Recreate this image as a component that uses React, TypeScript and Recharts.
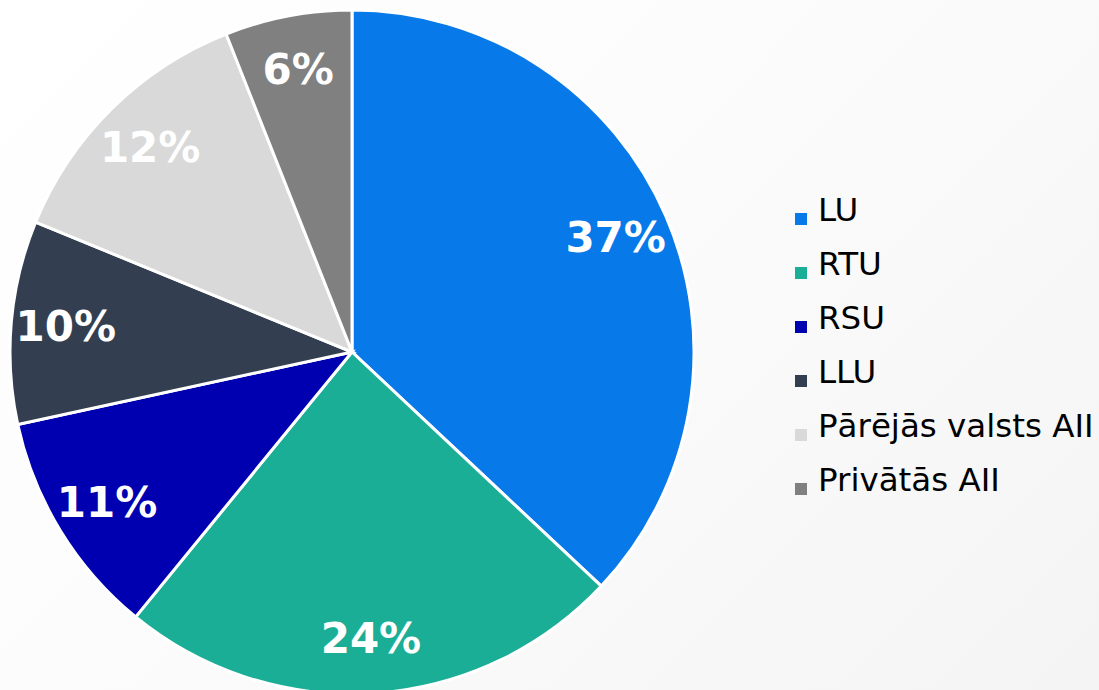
import { PieChart, Pie, Cell, Legend } from "recharts";

const names = ["LU", "RTU", "RSU", "LLU", "Pārējās valsts AII", "Privātās AII"];
// slice sizes
const shares = [37.0, 23.9, 10.7, 9.6, 12.8, 6.0];
// labels as printed on the slices
const labels = ["37%", "24%", "11%", "10%", "12%", "6%"];
const colors = ["#0779E9", "#1BAE96", "#0000B0", "#333F50", "#D9D9D9", "#808080"];

const data = names.map((name, i) => ({ name, value: shares[i], label: labels[i], color: colors[i] }));

const RAD = Math.PI / 180;
const FONT = "'DejaVu Sans', Verdana, sans-serif";

const renderLabel = (props: any) => {
  const { cx, cy, midAngle, outerRadius, payload } = props;
  const r = outerRadius * 0.84;
  const x = cx + r * Math.cos(-midAngle * RAD);
  const y = cy + r * Math.sin(-midAngle * RAD);
  return (
    <text
      x={x}
      y={y}
      fill="#ffffff"
      textAnchor="middle"
      dominantBaseline="central"
      fontFamily={FONT}
      fontWeight="bold"
      fontSize={42}
    >
      {payload.label}
    </text>
  );
};

const renderLegend = () => (
  <div style={{ fontFamily: FONT, fontSize: 32.5, color: "#000" }}>
    {data.map((d) => (
      <div key={d.name} style={{ display: "flex", alignItems: "flex-end", height: 54 }}>
        <span
          style={{
            display: "inline-block",
            width: 12,
            height: 12,
            background: d.color,
            marginRight: 11,
            marginBottom: 12,
          }}
        />
        <span style={{ lineHeight: "54px" }}>{d.name}</span>
      </div>
    ))}
  </div>
);

export default function App() {
  return (
    <div
      style={{
        position: "absolute",
        left: 0,
        top: 0,
        width: 1099,
        height: 690,
        overflow: "hidden",
        background: "linear-gradient(135deg, #ffffff 0%, #fbfbfb 50%, #f4f4f4 100%)",
      }}
    >
      <PieChart width={1099} height={690} margin={{ top: 0, right: 0, bottom: 0, left: 0 }}>
        <Legend
          layout="vertical"
          align="right"
          verticalAlign="top"
          content={renderLegend}
          wrapperStyle={{ left: 795, top: 183, width: 304 }}
        />
        <Pie
          data={data}
          dataKey="value"
          nameKey="name"
          cx={352}
          cy={352}
          outerRadius={342}
          startAngle={90}
          endAngle={-270}
          stroke="#ffffff"
          strokeWidth={3}
          label={renderLabel}
          labelLine={false}
          isAnimationActive={false}
        >
          {data.map((d) => (
            <Cell key={d.name} fill={d.color} />
          ))}
        </Pie>
      </PieChart>
    </div>
  );
}
